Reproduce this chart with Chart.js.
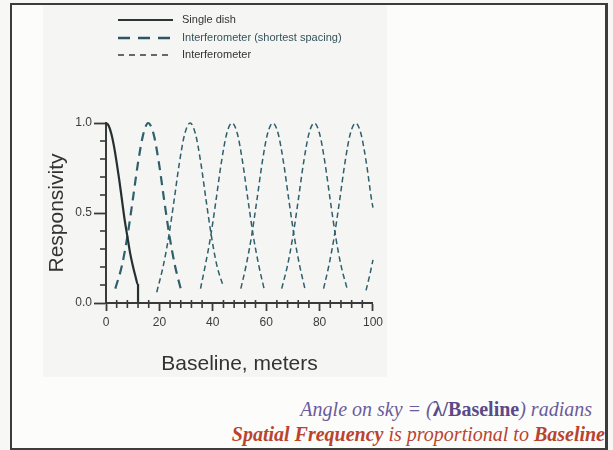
<!DOCTYPE html>
<html>
<head>
<meta charset="utf-8">
<script src="https://cdn.jsdelivr.net/npm/chart.js@4.4.1/dist/chart.umd.min.js"></script>
<style>
  body { margin: 0; width: 613px; height: 450px; background: #f7f7f5; position: relative; overflow: hidden; font-family: "Liberation Sans", Arial, sans-serif; }
  #frame { position: absolute; left: 10px; top: 3px; width: 598px; height: 447px; box-sizing: border-box;
           border-left: 2px solid #3c3c3c; border-top: 2px solid #3c3c3c; border-right: 3px solid #3c3c3c; border-bottom: 2px solid #3c3c3c; background: #fcfcfa; }
  #panel { position: absolute; left: 43px; top: 5px; width: 344px; height: 372px; background: #f5f5f3; }
  #legend { position: absolute; left: 118px; top: 12px; font-size: 11px; color: #333; }
  .row { position: relative; height: 17.5px; }
  .row svg { position: absolute; left: 0; top: 0; }
  .row span { position: absolute; left: 64px; top: 1px; white-space: nowrap; }
  .note { position: absolute; font-family: "Liberation Serif", "Times New Roman", serif; font-style: italic; font-size: 20px; white-space: nowrap; }
  #note1 { right: 21px; top: 398px; color: #6b5b9b; }
  #note1 b { font-style: normal; color: #5a4a88; }
  #note2 { right: 8px; top: 423px; color: #b8442f; }
</style>
</head>
<body>
<div id="frame"></div>
<div id="panel"><canvas id="Chart_1" width="344" height="372"></canvas></div>
<div id="legend">
  <div class="row"><svg width="60" height="17"><line x1="0" y1="8" x2="55" y2="8" stroke="#2b3437" stroke-width="1.8"/></svg><span>Single dish</span></div>
  <div class="row"><svg width="60" height="17"><line x1="0" y1="8" x2="59" y2="8" stroke="#2f5560" stroke-width="2.5" stroke-dasharray="12 8"/></svg><span style="color:#34535a">Interferometer (shortest spacing)</span></div>
  <div class="row"><svg width="60" height="17"><line x1="0" y1="8" x2="55" y2="8" stroke="#333b3e" stroke-width="1.3" stroke-dasharray="6 5"/></svg><span>Interferometer</span></div>
</div>
<div class="note" id="note1">Angle on sky = (<b>λ/Baseline</b>) radians</div>
<div class="note" id="note2"><b>Spatial Frequency</b> is proportional to <b>Baseline</b></div>
<script>
// baseline (m), responsivity
let singleDish = [[0,1.0],[1,0.985],[2,0.94],[3,0.87],[4,0.78],[5,0.68],[6,0.57],[7,0.46],[8,0.37],[9,0.28],[10,0.21],[11,0.15],[12,0.10],[12,0.0]];
let shortestSpacing = [[3.5,0.08],[6,0.21],[8,0.37],[10,0.57],[12,0.78],[14,0.94],[15.8,1.0],[17.8,0.94],[19.8,0.78],[21.8,0.57],[23.8,0.37],[25.8,0.21],[28.5,0.05]];
let lobeA = [[19,0.06],[21.5,0.21],[23.5,0.37],[25.5,0.57],[27.5,0.78],[29.5,0.94],[31.5,1.0],[33.5,0.94],[35.5,0.78],[37.5,0.57],[39.5,0.37],[41.5,0.21],[44,0.09]];
let lobeB = [[35.4,0.08],[37.2,0.21],[39.2,0.37],[41.2,0.57],[43.2,0.78],[45.2,0.94],[47.2,1.0],[49.2,0.94],[51.2,0.78],[53.2,0.57],[55.2,0.37],[57.2,0.21],[59.2,0.08]];
let lobeC = [[50.5,0.08],[52.5,0.21],[54.5,0.37],[56.5,0.57],[58.5,0.78],[60.5,0.94],[62.5,1.0],[64.5,0.94],[66.5,0.78],[68.5,0.57],[70.5,0.37],[72.5,0.21],[74.5,0.08]];
let lobeD = [[65.8,0.08],[68,0.21],[70,0.37],[72,0.57],[74,0.78],[76,0.94],[78,1.0],[80,0.94],[82,0.78],[84,0.57],[86,0.37],[88,0.21],[90.3,0.08]];
let lobeE = [[81.5,0.08],[83.5,0.21],[85.5,0.37],[87.5,0.57],[89.5,0.78],[91.5,0.94],[93.5,1.0],[95.5,0.94],[97.5,0.78],[99.5,0.57],[100,0.53]];
let lobeF = [[97.4,0.07],[98.7,0.15],[100,0.24]];
let xTicks = [0,20,40,60,80,100];
let yTicks = [0.0,0.5,1.0];

const axisColor = '#3a3a3a';
const teal = '#2f5f6b';

function pts(a) { return a.map(p => ({x: p[0], y: p[1]})); }

let datasets = [
  {data: pts(singleDish), borderColor: '#263033', borderWidth: 2.2},
  {data: pts(shortestSpacing), borderColor: teal, borderWidth: 2.2, borderDash: [9, 6]},
];
[lobeA, lobeB, lobeC, lobeD, lobeE, lobeF].forEach(l => {
  datasets.push({data: pts(l), borderColor: teal, borderWidth: 1.5, borderDash: [5.5, 3.5]});
});
datasets.forEach(d => { d.pointRadius = 0; d.fill = false; d.clip = false; d.cubicInterpolationMode = 'monotone'; });

// small ticks between the labelled ones
const minorTicks = {
  id: 'minorTicks',
  afterDraw(chart) {
    const ctx = chart.ctx, x = chart.scales.x, y = chart.scales.y;
    const ca = chart.chartArea;
    ctx.save();
    ctx.strokeStyle = axisColor;
    ctx.lineWidth = 1.6;
    for (let v = 4; v < 100; v += 4) {
      if (v % 20 === 0) continue;
      const px = x.getPixelForValue(v);
      ctx.beginPath(); ctx.moveTo(px, ca.bottom - 3); ctx.lineTo(px, ca.bottom + 5); ctx.stroke();
    }
    for (let i = 1; i < 10; i++) {
      if (i === 5) continue;
      const py = y.getPixelForValue(i / 10);
      ctx.beginPath(); ctx.moveTo(ca.left - 6, py); ctx.lineTo(ca.left, py); ctx.stroke();
    }
    ctx.restore();
  }
};

let cxt = document.getElementById('Chart_1');
let grafico = new Chart(cxt, {
  type: 'line',
  data: {datasets: datasets},
  plugins: [minorTicks],
  options: {
    responsive: false,
    animation: false,
    layout: {padding: {top: 118, right: 10, left: 0, bottom: 0}},
    plugins: {legend: {display: false}, tooltip: {enabled: false}},
    scales: {
      x: {
        type: 'linear', min: 0, max: 100,
        afterFit: s => { s.height = 74; },
        afterBuildTicks: s => { s.ticks = xTicks.map(v => ({value: v})); },
        grid: {drawOnChartArea: false, color: axisColor, tickLength: 8, tickWidth: 1.8},
        border: {color: axisColor, width: 2},
        ticks: {color: '#3d3d3d', font: {family: 'Liberation Sans', size: 12}, padding: 4},
        title: {display: true, text: 'Baseline, meters', color: '#333', font: {family: 'Liberation Sans', size: 21}, padding: {top: 0, bottom: 0}}
      },
      y: {
        min: 0, max: 1,
        afterFit: s => { s.width = 63; },
        afterBuildTicks: s => { s.ticks = yTicks.map(v => ({value: v})); },
        grid: {drawOnChartArea: false, color: axisColor, tickLength: 12, tickWidth: 1.8},
        border: {color: axisColor, width: 2},
        ticks: {color: '#3d3d3d', font: {family: 'Liberation Sans', size: 12}, padding: 2, callback: v => v.toFixed(1)},
        title: {display: true, text: 'Responsivity', color: '#333', font: {family: 'Liberation Sans', size: 21}, padding: {top: 2, bottom: 0}}
      }
    }
  }
});
</script>
</body>
</html>
